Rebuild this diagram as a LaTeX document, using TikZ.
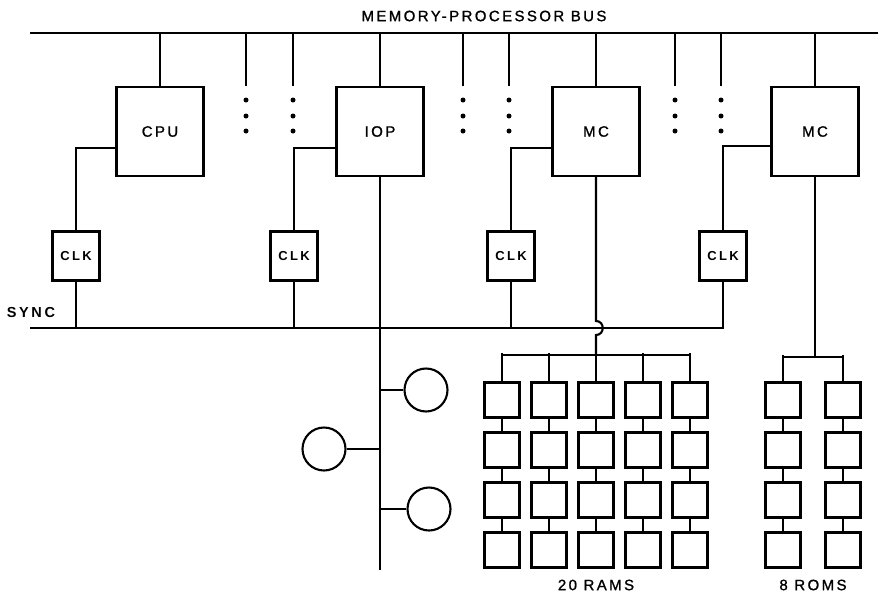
\documentclass[tikz,border=0pt]{standalone}
\usepackage{fontspec}
\newfontfamily\labfont[LetterSpace=16,FakeBold=1.2]{Liberation Sans}
\newfontfamily\labbold[LetterSpace=18]{Liberation Sans Bold}
\begin{document}
\begin{tikzpicture}[x=1pt,y=-1pt,
  wire/.style={line width=2.1pt},
  unit/.style={draw,line width=2.1pt,minimum width=87pt,minimum height=89pt,inner sep=0pt,font=\labfont\fontsize{15}{15}\selectfont},
  clkbox/.style={draw,line width=2.1pt,minimum width=47pt,minimum height=49pt,inner sep=0pt,font=\labbold\fontsize{13}{13}\selectfont},
  membox/.style={draw,line width=2.1pt,minimum width=35pt,minimum height=35pt,inner sep=0pt},
  dev/.style={draw,line width=2.1pt,circle,minimum size=43pt,inner sep=0pt},
  lbl/.style={inner sep=0pt,font=\labfont\fontsize{15}{15}\selectfont},
  dotmark/.style={fill,circle,inner sep=0pt,minimum size=5pt}
]
\useasboundingbox (0,0) rectangle (878,592);
% bus
\coordinate (busL) at (30,33);
\coordinate (busR) at (878,33);
\draw[wire] (busL) -- (busR);
\node[lbl] (title) at (484,16) {MEMORY-PROCESSOR BUS};
% units
\node[unit] (cpu) at (160,131.5) {CPU};
\node[unit] (iop) at (380,131.5) {IOP};
\node[unit] (mc1) at (596,131.5) {MC};
\node[unit] (mc2) at (815,131.5) {MC};
\foreach \u in {cpu,iop,mc1,mc2} \draw[wire] (\u.north) -- (\u.north |- busL);
% dots columns
\foreach \i/\x in {1/246,2/293,3/463,4/509,5/675,6/721}{
  \coordinate (dtop\i) at (\x,33);
  \coordinate (dend\i) at (\x,86);
  \draw[wire] (dtop\i) -- (dend\i);
  \node[dotmark] (da\i) at (\x,100) {};
  \node[dotmark] (db\i) at (\x,116) {};
  \node[dotmark] (dc\i) at (\x,131) {};
}
% clocks
\node[clkbox] (clk1) at (76,256) {CLK};
\node[clkbox] (clk2) at (294,256) {CLK};
\node[clkbox] (clk3) at (511,256) {CLK};
\node[clkbox] (clk4) at (723,256) {CLK};
\draw[wire] ([yshift=-16.5pt]cpu.west) -| (clk1.north);
\draw[wire] ([yshift=-16.5pt]iop.west) -| (clk2.north);
\draw[wire] ([yshift=-16.5pt]mc1.west) -| (clk3.north);
\draw[wire] ([yshift=-14.5pt]mc2.west) -| (clk4.north);
% sync
\coordinate (syncL) at (30,328);
\node[inner sep=0pt,font=\labbold\fontsize{14.5}{14.5}\selectfont] (synclbl) at (31,313) {SYNC};
\draw[wire] (syncL) -- (syncL -| clk4.south) -- (clk4.south);
\foreach \c in {clk1,clk2,clk3} \draw[wire] (\c.south) -- (\c.south |- syncL);
% IOP line and devices
\coordinate (iopend) at (380,570);
\draw[wire] (iop.south) -- (iopend);
\node[dev] (d1) at (426,390) {};
\node[dev] (d2) at (324,449) {};
\node[dev] (d3) at (429,509) {};
\draw[wire] (d1.west) -- (d1.west -| iop.south);
\draw[wire] (d2.east) -- (d2.east -| iop.south);
\draw[wire] (d3.west) -- (d3.west -| iop.south);
% RAMs
\foreach \c/\x in {1/502,2/549,3/596,4/643,5/690}{
  \foreach \r/\y in {1/400,2/450,3/500,4/550}{
    \node[membox] (ram\c\r) at (\x,\y) {};
  }
  \draw[wire] (ram\c1.north) -- ++(0,-28);
  \draw[wire] (ram\c1.south) -- (ram\c2.north);
  \draw[wire] (ram\c2.south) -- (ram\c3.north);
  \draw[wire] (ram\c3.south) -- (ram\c4.north);
}
\coordinate (ramfan) at (596,355);
\draw[wire] (ramfan -| ram11.north) -- (ramfan -| ram51.north);
% MC1 line hopping over sync
\coordinate (hopA) at (596,321);
\coordinate (hopB) at (596,335);
\draw[wire] (mc1.south) -- (hopA) .. controls (605,321) and (605,335) .. (hopB) -- (ramfan);
\node[lbl] (ramlbl) at (596,585) {20 RAMS};
% ROMs
\foreach \c/\x in {1/783,2/843}{
  \foreach \r/\y in {1/400,2/450,3/500,4/550}{
    \node[membox] (rom\c\r) at (\x,\y) {};
  }
  \draw[wire] (rom\c1.north) -- ++(0,-26);
  \draw[wire] (rom\c1.south) -- (rom\c2.north);
  \draw[wire] (rom\c2.south) -- (rom\c3.north);
  \draw[wire] (rom\c3.south) -- (rom\c4.north);
}
\coordinate (romfan) at (815,357);
\draw[wire] (romfan -| rom11.north) -- (romfan -| rom21.north);
\draw[wire] (mc2.south) -- (romfan);
\node[lbl] (romlbl) at (813,585) {8 ROMS};
\end{tikzpicture}
\end{document}
